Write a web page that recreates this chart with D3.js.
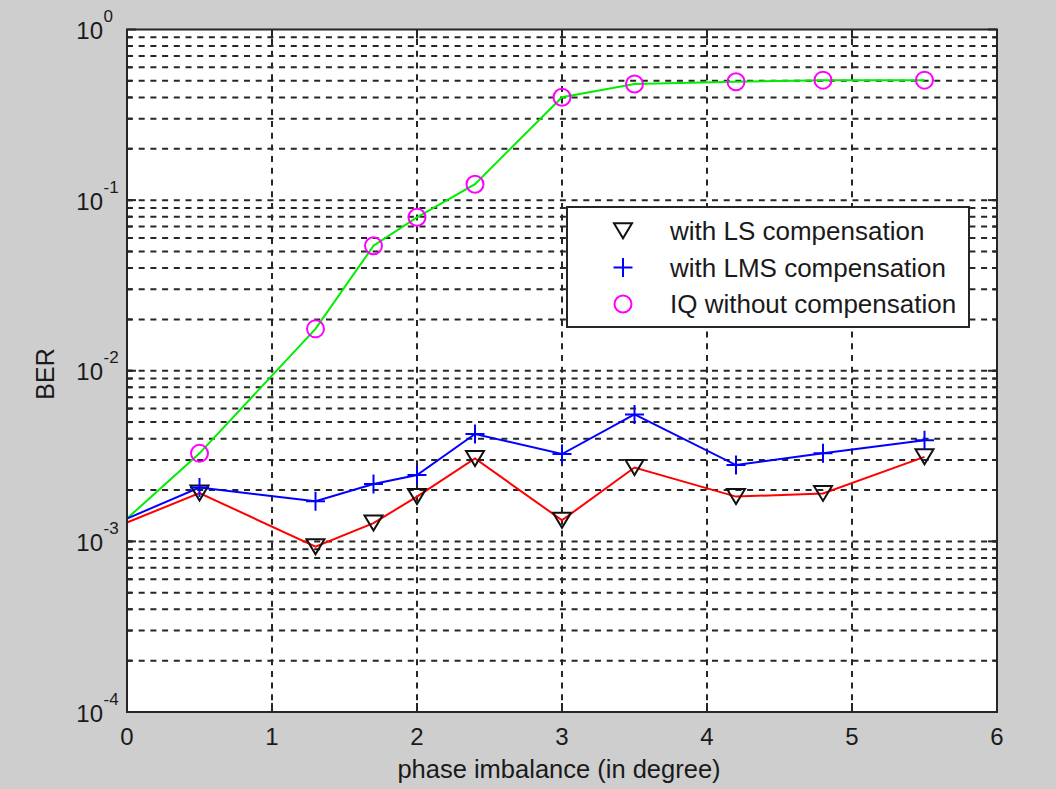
<!DOCTYPE html>
<html>
<head>
<meta charset="utf-8">
<script src="https://cdn.jsdelivr.net/npm/d3@7"></script>
<style>
  html, body { margin: 0; padding: 0; background: #cecece; }
  svg { display: block; }
  text { font-family: "Liberation Sans", Arial, Helvetica, sans-serif; fill: #1a1a1a; }
</style>
</head>
<body>
<svg id="chart" width="1056" height="789"></svg>
<script>
// Phase imbalance (degrees) at which BER was measured
const phase = [0, 0.5, 1.3, 1.7, 2.0, 2.4, 3.0, 3.5, 4.2, 4.8, 5.5];
// BER with least-squares compensation
const berLS = [1.29e-3, 1.92e-3, 0.93e-3, 1.28e-3, 1.83e-3, 3.06e-3, 1.33e-3, 2.71e-3, 1.83e-3, 1.91e-3, 3.13e-3];
// BER with LMS compensation
const berLMS = [1.36e-3, 2.07e-3, 1.72e-3, 2.17e-3, 2.45e-3, 4.26e-3, 3.25e-3, 5.55e-3, 2.80e-3, 3.28e-3, 3.92e-3];
// BER of the IQ-imbalanced signal without compensation
const berIQ = [1.36e-3, 3.28e-3, 1.76e-2, 5.40e-2, 7.93e-2, 0.124, 0.401, 0.479, 0.494, 0.505, 0.505];

const xTicks = [0, 1, 2, 3, 4, 5, 6];
const yDecades = [-4, -3, -2, -1, 0];
const legendLabels = ["with LS compensation", "with LMS compensation", "IQ without compensation"];

const svg = d3.select("#chart");
const plot = { left: 127, right: 997, top: 29.5, bottom: 712 };

const x = d3.scaleLinear().domain([0, 6]).range([plot.left, plot.right]);
const y = d3.scaleLog().domain([1e-4, 1]).range([plot.bottom, plot.top]);

// white axes background
svg.append("rect")
  .attr("x", plot.left).attr("y", plot.top)
  .attr("width", plot.right - plot.left).attr("height", plot.bottom - plot.top)
  .attr("fill", "#ffffff");

// grid values: every 1..9 x 10^k inside the range
const gridVals = [];
for (let k = -4; k < 0; k++) {
  for (let m = 1; m <= 9; m++) {
    const v = m * Math.pow(10, k);
    if (v > 1e-4) gridVals.push(v);
  }
}

const grid = svg.append("g").attr("stroke", "#262626").attr("stroke-width", 2)
  .attr("stroke-dasharray", "6 5.7").attr("fill", "none");

grid.selectAll("line.h").data(gridVals).join("line")
  .attr("class", "h")
  .attr("x1", plot.left).attr("x2", plot.right)
  .attr("y1", d => y(d)).attr("y2", d => y(d));

grid.selectAll("line.v").data(xTicks.filter(t => t > 0 && t < 6)).join("line")
  .attr("class", "v")
  .attr("x1", d => x(d)).attr("x2", d => x(d))
  .attr("y1", plot.bottom).attr("y2", plot.top);

// inside ticks
const ticks = svg.append("g").attr("stroke", "#262626").attr("stroke-width", 2);
xTicks.forEach(t => {
  ticks.append("line").attr("x1", x(t)).attr("x2", x(t)).attr("y1", plot.bottom).attr("y2", plot.bottom - 9);
  ticks.append("line").attr("x1", x(t)).attr("x2", x(t)).attr("y1", plot.top).attr("y2", plot.top + 9);
});
yDecades.forEach(k => {
  const yy = y(Math.pow(10, k));
  ticks.append("line").attr("x1", plot.left).attr("x2", plot.left + 9).attr("y1", yy).attr("y2", yy);
  ticks.append("line").attr("x1", plot.right).attr("x2", plot.right - 9).attr("y1", yy).attr("y2", yy);
});
gridVals.forEach(v => {
  const yy = y(v);
  ticks.append("line").attr("x1", plot.left).attr("x2", plot.left + 5).attr("y1", yy).attr("y2", yy);
  ticks.append("line").attr("x1", plot.right).attr("x2", plot.right - 5).attr("y1", yy).attr("y2", yy);
});

// x tick labels
svg.append("g").selectAll("text").data(xTicks).join("text")
  .attr("x", d => x(d)).attr("y", plot.bottom + 33)
  .attr("text-anchor", "middle").attr("font-size", 24)
  .text(d => d);

// y tick labels: 10 with superscript exponent
const yl = svg.append("g").selectAll("g").data(yDecades).join("g")
  .attr("transform", d => `translate(103,${y(Math.pow(10, d)) + 9.5})`);
yl.append("text").attr("text-anchor", "end").attr("font-size", 24).text("10");
yl.append("text").attr("x", 0.5).attr("y", -17).attr("font-size", 17).text(d => d === 0 ? "0" : "-" + Math.abs(d));

// axis titles
svg.append("text").attr("x", 559).attr("y", 778).attr("text-anchor", "middle")
  .attr("font-size", 25.5).text("phase imbalance (in degree)");
svg.append("text").attr("transform", "translate(54,374) rotate(-90)")
  .attr("text-anchor", "middle").attr("font-size", 25).text("BER");

// series
const line = d3.line().x(d => x(d[0])).y(d => y(d[1]));
const series = [
  { vals: berIQ, color: "#00ee00" },
  { vals: berLMS, color: "#0000ff" },
  { vals: berLS, color: "#ff0000" }
];
const lines = svg.append("g").attr("fill", "none").attr("stroke-width", 2);
series.forEach(s => {
  lines.append("path").datum(phase.map((p, i) => [p, s.vals[i]]))
    .attr("stroke", s.color).attr("d", line);
});

// markers (measured points, excluding the x = 0 starting value)
const tri = "M-9,-7.5L9,-7.5L0,7.5Z";
const plusPath = "M-9.5,0H9.5M0,-9.5V9.5";
const mk = svg.append("g").attr("fill", "none").attr("stroke-width", 2);
const pts = (vals) => phase.map((p, i) => [p, vals[i]]).slice(1);

mk.selectAll("path.ls").data(pts(berLS)).join("path").attr("class", "ls")
  .attr("d", tri).attr("stroke", "#111")
  .attr("transform", d => `translate(${x(d[0])},${y(d[1])})`);
mk.selectAll("path.lms").data(pts(berLMS)).join("path").attr("class", "lms")
  .attr("d", plusPath).attr("stroke", "#0000ff")
  .attr("transform", d => `translate(${x(d[0])},${y(d[1])})`);
mk.selectAll("circle.iq").data(pts(berIQ)).join("circle").attr("class", "iq")
  .attr("r", 8.5).attr("stroke", "#ff00ff")
  .attr("cx", d => x(d[0])).attr("cy", d => y(d[1]));

// axes frame
svg.append("rect")
  .attr("x", plot.left).attr("y", plot.top)
  .attr("width", plot.right - plot.left).attr("height", plot.bottom - plot.top)
  .attr("fill", "none").attr("stroke", "#262626").attr("stroke-width", 2);

// legend
const lg = svg.append("g");
lg.append("rect").attr("x", 567).attr("y", 207).attr("width", 402).attr("height", 120)
  .attr("fill", "#ffffff").attr("stroke", "#262626").attr("stroke-width", 2);
const rowsY = [230.7, 267.5, 304];
const legendMarks = [
  g => g.append("path").attr("d", tri).attr("fill", "none").attr("stroke", "#111").attr("stroke-width", 2),
  g => g.append("path").attr("d", plusPath).attr("fill", "none").attr("stroke", "#0000ff").attr("stroke-width", 2),
  g => g.append("circle").attr("r", 8.5).attr("fill", "none").attr("stroke", "#ff00ff").attr("stroke-width", 2)
];
legendLabels.forEach((lab, i) => {
  const g = lg.append("g").attr("transform", `translate(623,${rowsY[i]})`);
  legendMarks[i](g);
  lg.append("text").attr("x", 670).attr("y", rowsY[i] + 9).attr("font-size", 26).text(lab);
});
</script>
</body>
</html>
